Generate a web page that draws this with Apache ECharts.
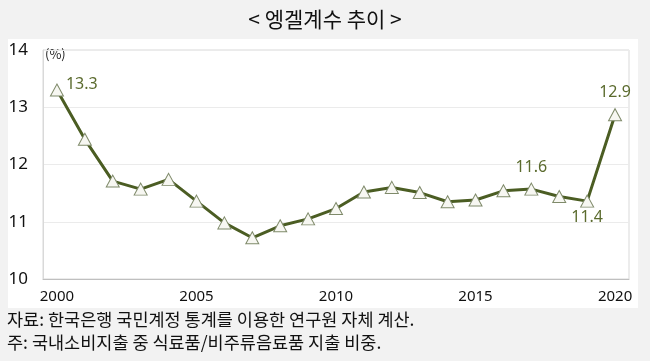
<!DOCTYPE html>
<html><head><meta charset="utf-8">
<script src="https://cdn.jsdelivr.net/npm/echarts@6/dist/echarts.min.js"></script>
<style>html,body{margin:0;padding:0;background:#f2f2f2;}#c{width:650px;height:361px;}</style>
</head><body><div id="c"></div>
<script>
const years = ['2000','2001','2002','2003','2004','2005','2006','2007','2008','2009','2010','2011','2012','2013','2014','2015','2016','2017','2018','2019','2020'];
const engel = [13.30,12.44,11.71,11.57,11.74,11.36,10.98,10.72,10.93,11.05,11.23,11.52,11.60,11.51,11.35,11.38,11.54,11.57,11.44,11.36,12.87];
const labelText = {0:'13.3', 17:'11.6', 19:'11.4', 20:'12.9'};
const yTicks = [10,11,12,13,14];
const titleText = '< 엥겔계수 추이 >';
const note1 = '자료: 한국은행 국민계정 통계를 이용한 연구원 자체 계산.';
const note2 = '주: 국내소비지출 중 식료품/비주류음료품 지출 비중.';

const labelPos = {0:{position:'right',distance:2,offset:[0,-6]},17:{position:'top',distance:7},19:{position:'bottom',distance:2},20:{position:'top',distance:8}};
const kr = '"Noto Sans CJK KR", "Noto Sans", sans-serif';
const data = engel.map((v,i)=>{
  const d = {value:v};
  if (labelText[i]) {
    d.label = Object.assign({show:true, formatter:labelText[i], color:'#5b6b2e', fontSize:16, fontFamily:'"Noto Sans", sans-serif'}, labelPos[i]);
  }
  return d;
});
const chart = echarts.init(document.getElementById('c'));
chart.setOption({
  backgroundColor:'#f2f2f2',
  animation:false,
  graphic:[
    {type:'rect', z:-10, shape:{x:8,y:39,width:630,height:269}, style:{fill:'#ffffff'}},
    {type:'text', left:'center', top:9, style:{text:titleText, font:'21px '+kr, fill:'#111'}},
    {type:'text', left:45, top:48, style:{text:'(%)', font:'13px '+kr, fill:'#222'}},
    {type:'text', left:7, top:311, style:{text:note1, font:'17.5px '+kr, fill:'#111'}},
    {type:'text', left:7, top:334, style:{text:note2, font:'17.5px '+kr, fill:'#111'}}
  ],
  grid:{left:43, right:21, top:50, bottom:82, show:true, borderColor:'#d9d9d9', borderWidth:1, backgroundColor:'#fff'},
  xAxis:{type:'category', data:years, boundaryGap:true,
    axisLine:{lineStyle:{color:'#bfbfbf'}},
    axisTick:{interval:0, length:4, lineStyle:{color:'#a6a6a6'}},
    axisLabel:{interval:4, color:'#111', fontSize:15, margin:10, fontFamily:'"Liberation Sans Narrow", "Noto Sans", sans-serif'}},
  yAxis:{type:'value', min:yTicks[0], max:yTicks[yTicks.length-1], interval:1,
    axisLine:{show:true, lineStyle:{color:'#d9d9d9'}},
    axisTick:{show:false},
    splitLine:{lineStyle:{color:'#ebebeb'}},
    axisLabel:{color:'#111', fontSize:17, margin:15, fontFamily:'"Liberation Sans Narrow", "Noto Sans", sans-serif'}},
  series:[{type:'line', data:data, symbol:'triangle', symbolSize:[13,12],
    lineStyle:{color:'#4b5d23', width:3},
    itemStyle:{color:'#f7f7f2', borderColor:'#7f8a6a', borderWidth:1},
    z:3}]
});
</script></body></html>
